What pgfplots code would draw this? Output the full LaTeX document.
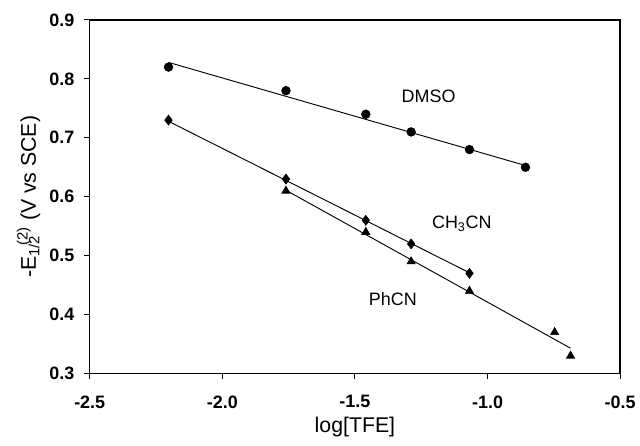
\documentclass[border=0pt]{standalone}
\usepackage{fontspec}
\setmainfont{Liberation Sans}
\usepackage{pgfplots}
\pgfplotsset{compat=1.18}

\begin{document}
\begin{tikzpicture}
\begin{axis}[
  name=ax,
  scale only axis,
  width=399pt, height=266pt,
  xmin=-2.5, xmax=-0.5,
  ymin=0.3, ymax=0.9,
  xtick={-2.5,-2.0,-1.5,-1.0,-0.5},
  ytick={0.3,0.4,0.5,0.6,0.7,0.8,0.9},
  /pgf/number format/.cd,fixed,fixed zerofill,precision=1,assume math mode=true,
  /pgfplots/.cd,
  xticklabel style={font=\bfseries\fontsize{13.5}{15}\selectfont, yshift=-9pt},
  yticklabel style={font=\bfseries\fontsize{13.5}{15}\selectfont, xshift=-4pt},
  xlabel style={font=\fontsize{16}{18}\selectfont, yshift=0pt},
  ylabel style={font=\fontsize{16}{18}\selectfont},
  xlabel={log[TFE]},
  ylabel={-E\textsubscript{1/2}\kern-0.5em\textsuperscript{(2)} (V vs SCE)},
  tick align=outside,
  xtick pos=bottom, ytick pos=left,
  major tick length=4pt,
  axis line style={line width=1pt},
  every tick/.style={black, line width=0.8pt},
  clip=false,
]
% fitted lines
\addplot[black, line width=0.7pt] coordinates {(-2.203,0.828) (-0.857,0.653)};
\addplot[black, line width=0.7pt] coordinates {(-2.203,0.728) (-1.068,0.471)};
\addplot[black, line width=0.7pt] coordinates {(-1.760,0.611) (-0.687,0.343)};
% DMSO
\addplot[only marks, mark=*, mark size=3.3pt, black] coordinates {
  (-2.203,0.82) (-1.760,0.78) (-1.459,0.74) (-1.288,0.71) (-1.068,0.68) (-0.857,0.65)};
% CH3CN
\addplot[only marks, mark=diamond*, mark size=3.8pt, black] coordinates {
  (-2.203,0.73) (-1.760,0.63) (-1.459,0.56) (-1.288,0.52) (-1.068,0.47)};
% PhCN
\addplot[only marks, mark=triangle*, mark size=3.6pt, black] coordinates {
  (-1.760,0.61) (-1.459,0.54) (-1.288,0.49) (-1.068,0.44) (-0.747,0.37) (-0.687,0.33)};
\node[font=\fontsize{13.5}{15}\selectfont] at (axis cs:-1.222,0.770) {DMSO};
\node[font=\fontsize{13.5}{15}\selectfont] at (axis cs:-1.097,0.554) {CH\textsubscript{3}CN};
\node[font=\fontsize{13.5}{15}\selectfont] at (axis cs:-1.357,0.427) {PhCN};
\end{axis}
\path ([xshift=-67.5pt,yshift=-54pt]ax.south west) ([xshift=13.5pt,yshift=15pt]ax.north east);
\end{tikzpicture}
\end{document}
